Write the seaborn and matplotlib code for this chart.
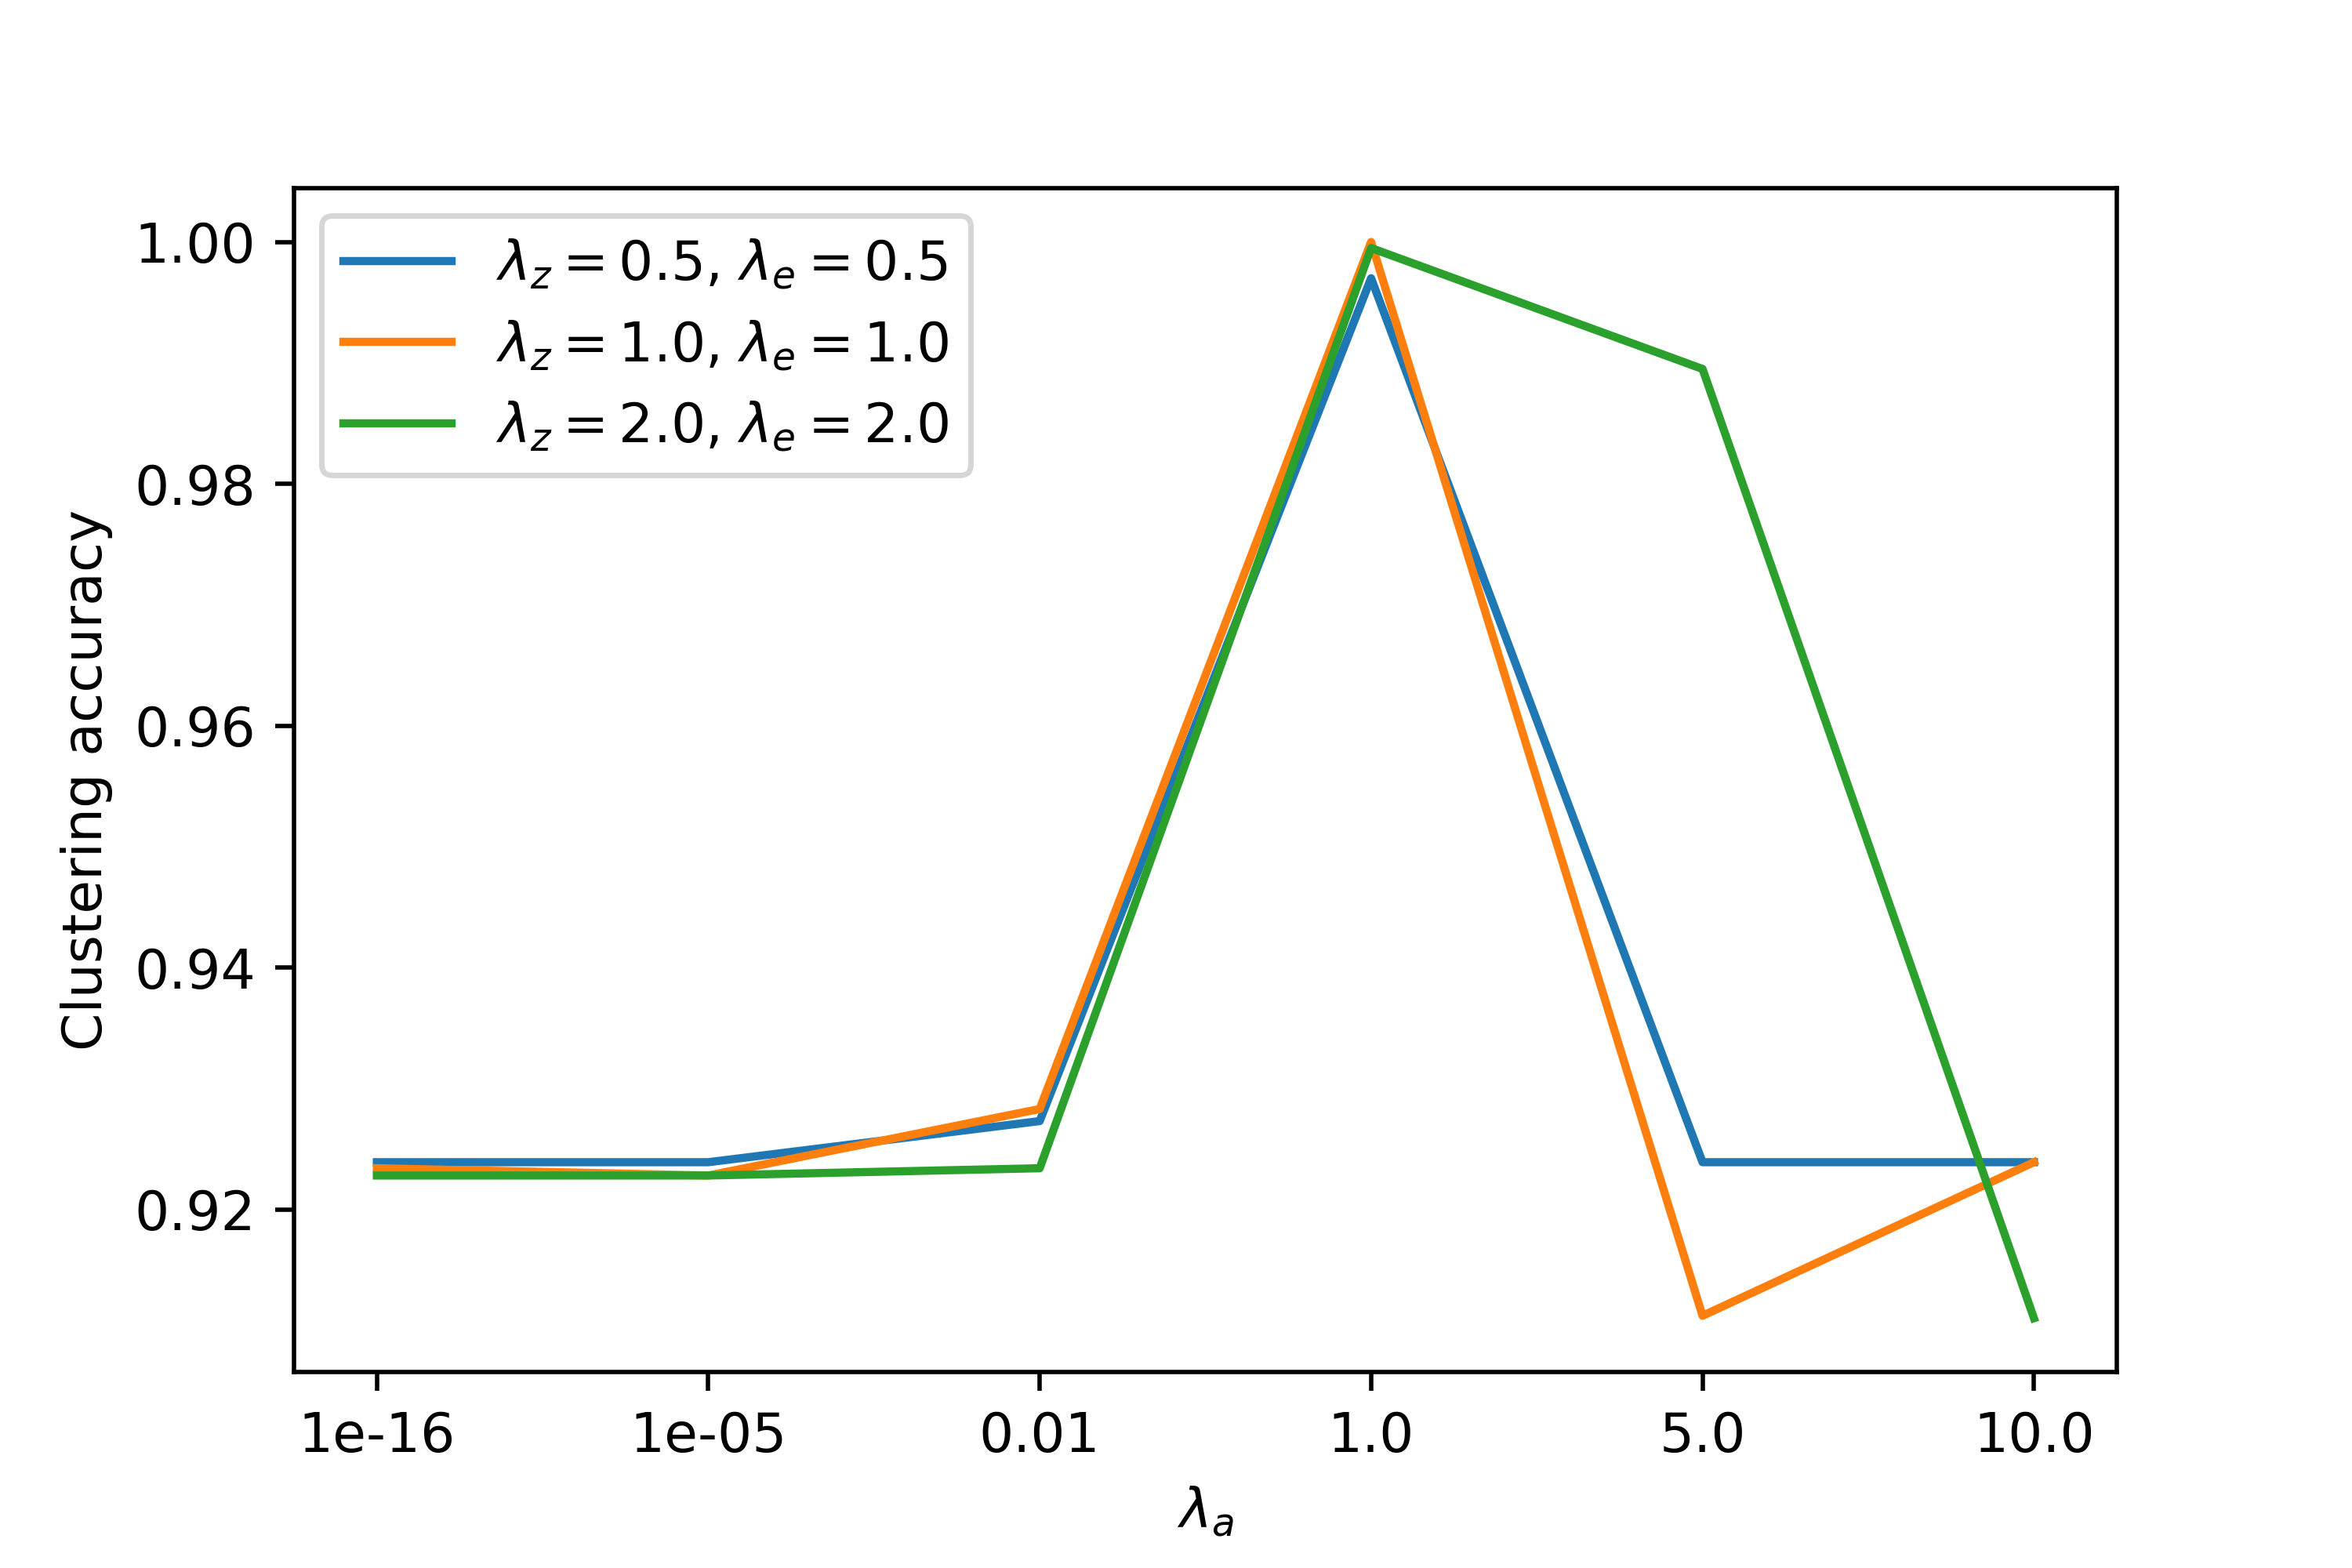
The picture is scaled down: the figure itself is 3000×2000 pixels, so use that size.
import pandas as pd
import matplotlib
matplotlib.use('Agg')
import matplotlib.pyplot as plt
import seaborn as sns

# lambda_a values (categorical, evenly spaced on the x axis)
lambda_a = ['1e-16', '1e-05', '0.01', '1.0', '5.0', '10.0']

# clustering accuracy for each (lambda_z, lambda_e) setting
acc_05 = [0.9239, 0.9239, 0.9273, 0.9970, 0.9239, 0.9239]
acc_10 = [0.9234, 0.9228, 0.9283, 1.0000, 0.9112, 0.9239]
acc_20 = [0.9228, 0.9228, 0.9234, 0.9995, 0.9895, 0.9110]

labels = [r'$\lambda_z = 0.5$, $\lambda_e = 0.5$',
          r'$\lambda_z = 1.0$, $\lambda_e = 1.0$',
          r'$\lambda_z = 2.0$, $\lambda_e = 2.0$']

# long format for seaborn
df = pd.DataFrame({
    'lambda_a': lambda_a * 3,
    'acc': acc_05 + acc_10 + acc_20,
    'setting': [labels[0]] * 6 + [labels[1]] * 6 + [labels[2]] * 6,
})

fig, ax = plt.subplots(figsize=(6, 4), dpi=500)
fig.subplots_adjust(bottom=0.125, top=0.88)

sns.lineplot(data=df, x='lambda_a', y='acc', hue='setting', sort=False,
             palette=['#1f77b4', '#ff7f0e', '#2ca02c'], linewidth=1.5, ax=ax)

ax.set_xlabel(r'$\lambda_a$')
ax.set_ylabel('Clustering accuracy')
ax.set_yticks([0.92, 0.94, 0.96, 0.98, 1.00])
ax.set_yticklabels(['0.92', '0.94', '0.96', '0.98', '1.00'])

sns.move_legend(ax, 'upper left', title=None)

plt.savefig('out.png', dpi=500)
